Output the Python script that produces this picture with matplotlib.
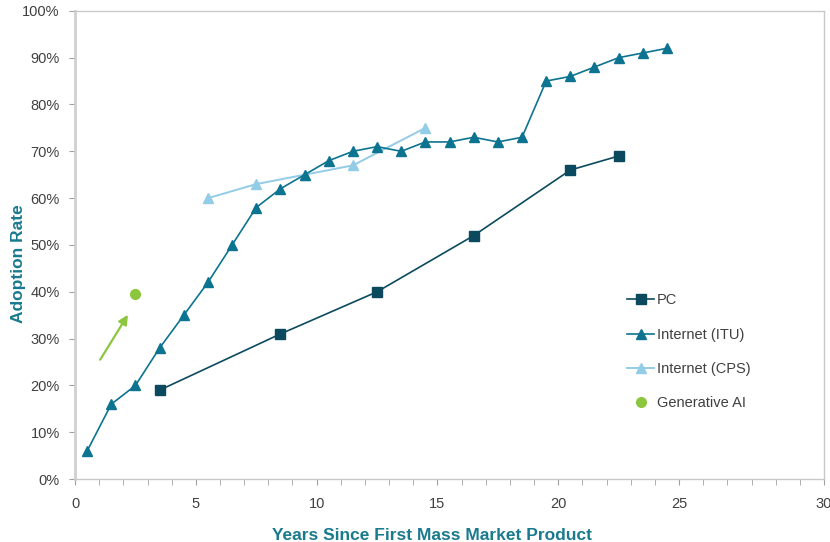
import matplotlib.pyplot as plt
from matplotlib.ticker import MultipleLocator, PercentFormatter

plt.rcParams['font.family'] = ['Liberation Sans', 'DejaVu Sans']

# adoption curves (percent of population vs years since first mass market product)
pc_years = [3.5, 8.5, 12.5, 16.5, 20.5, 22.5]
pc_rate = [19, 31, 40, 52, 66, 69]

itu_years = [0.5, 1.5, 2.5, 3.5, 4.5, 5.5, 6.5, 7.5, 8.5, 9.5, 10.5, 11.5, 12.5,
             13.5, 14.5, 15.5, 16.5, 17.5, 18.5, 19.5, 20.5, 21.5, 22.5, 23.5, 24.5]
itu_rate = [6, 16, 20, 28, 35, 42, 50, 58, 62, 65, 68, 70, 71,
            70, 72, 72, 73, 72, 73, 85, 86, 88, 90, 91, 92]

cps_years = [5.5, 7.5, 9.5, 11.5, 14.5]
cps_rate = [60, 63, 65, 67, 75]

genai_years = [2.5]
genai_rate = [39.5]

# category-style x axis: 31 slots, labelled every 5 with the last slot marked 30
xtick_pos = [0, 5, 10, 15, 20, 25, 31]
xtick_labels = ['0', '5', '10', '15', '20', '25', '30']

c_pc = '#0B4A5E'
c_itu = '#0C7490'
c_cps = '#93CCE6'
c_ai = '#8CC63F'
c_label = '#1A7A8E'
c_frame = '#C8C8C8'

fig = plt.figure(figsize=(8.3, 5.42), dpi=100)
ax = fig.add_axes([0.0904, 0.116, 0.9024, 0.864])

ax.plot(pc_years, pc_rate, color=c_pc, lw=1.2, marker='s', ms=6.5, label='PC', zorder=3)
ax.plot(itu_years, itu_rate, color=c_itu, lw=1.2, marker='^', ms=7.5, label='Internet (ITU)', zorder=4)
ax.plot(cps_years, cps_rate, color=c_cps, lw=1.4, marker='^', ms=7.5, label='Internet (CPS)', zorder=3)
ax.plot(genai_years, genai_rate, ls='none', color=c_ai, marker='o', ms=7, label='Generative AI', zorder=5)

# arrow pointing up towards the generative AI point
ax.annotate('', xy=(2.25, 35.6), xytext=(0.98, 25),
            arrowprops=dict(arrowstyle='-|>', color=c_ai, lw=1.6, mutation_scale=14))

ax.set_xlim(0, 31)
ax.set_ylim(0, 100)
ax.set_xticks(xtick_pos)
ax.set_xticklabels(xtick_labels)
ax.xaxis.set_minor_locator(MultipleLocator(1))
ax.yaxis.set_major_locator(MultipleLocator(10))
ax.yaxis.set_major_formatter(PercentFormatter(decimals=0))

for side in ['top', 'right', 'bottom']:
    ax.spines[side].set_color(c_frame)
    ax.spines[side].set_linewidth(1.0)
ax.spines['left'].set_color('#D0D0D0')
ax.spines['left'].set_linewidth(2.0)

ax.tick_params(axis='both', which='both', direction='out', color='#A0A0A0',
               labelcolor='#404040', labelsize=10.5)
ax.tick_params(axis='both', which='major', length=4)
ax.tick_params(axis='x', which='minor', length=4)
ax.tick_params(axis='y', pad=7)
ax.tick_params(axis='x', pad=9)

ax.set_xlabel('Years Since First Mass Market Product', color=c_label,
              fontsize=12.5, fontweight='bold')
ax.xaxis.set_label_coords(0.477, -0.105)
ax.set_ylabel('Adoption Rate', color=c_label, fontsize=12.5, fontweight='bold')
ax.yaxis.set_label_coords(-0.066, 0.46)

leg = ax.legend(loc='upper left', bbox_to_anchor=(0.72, 0.425), frameon=False,
                fontsize=10.5, handlelength=1.8, handletextpad=0.2, labelspacing=1.4,
                labelcolor='#404040')

fig.savefig('out.png', dpi=100)
